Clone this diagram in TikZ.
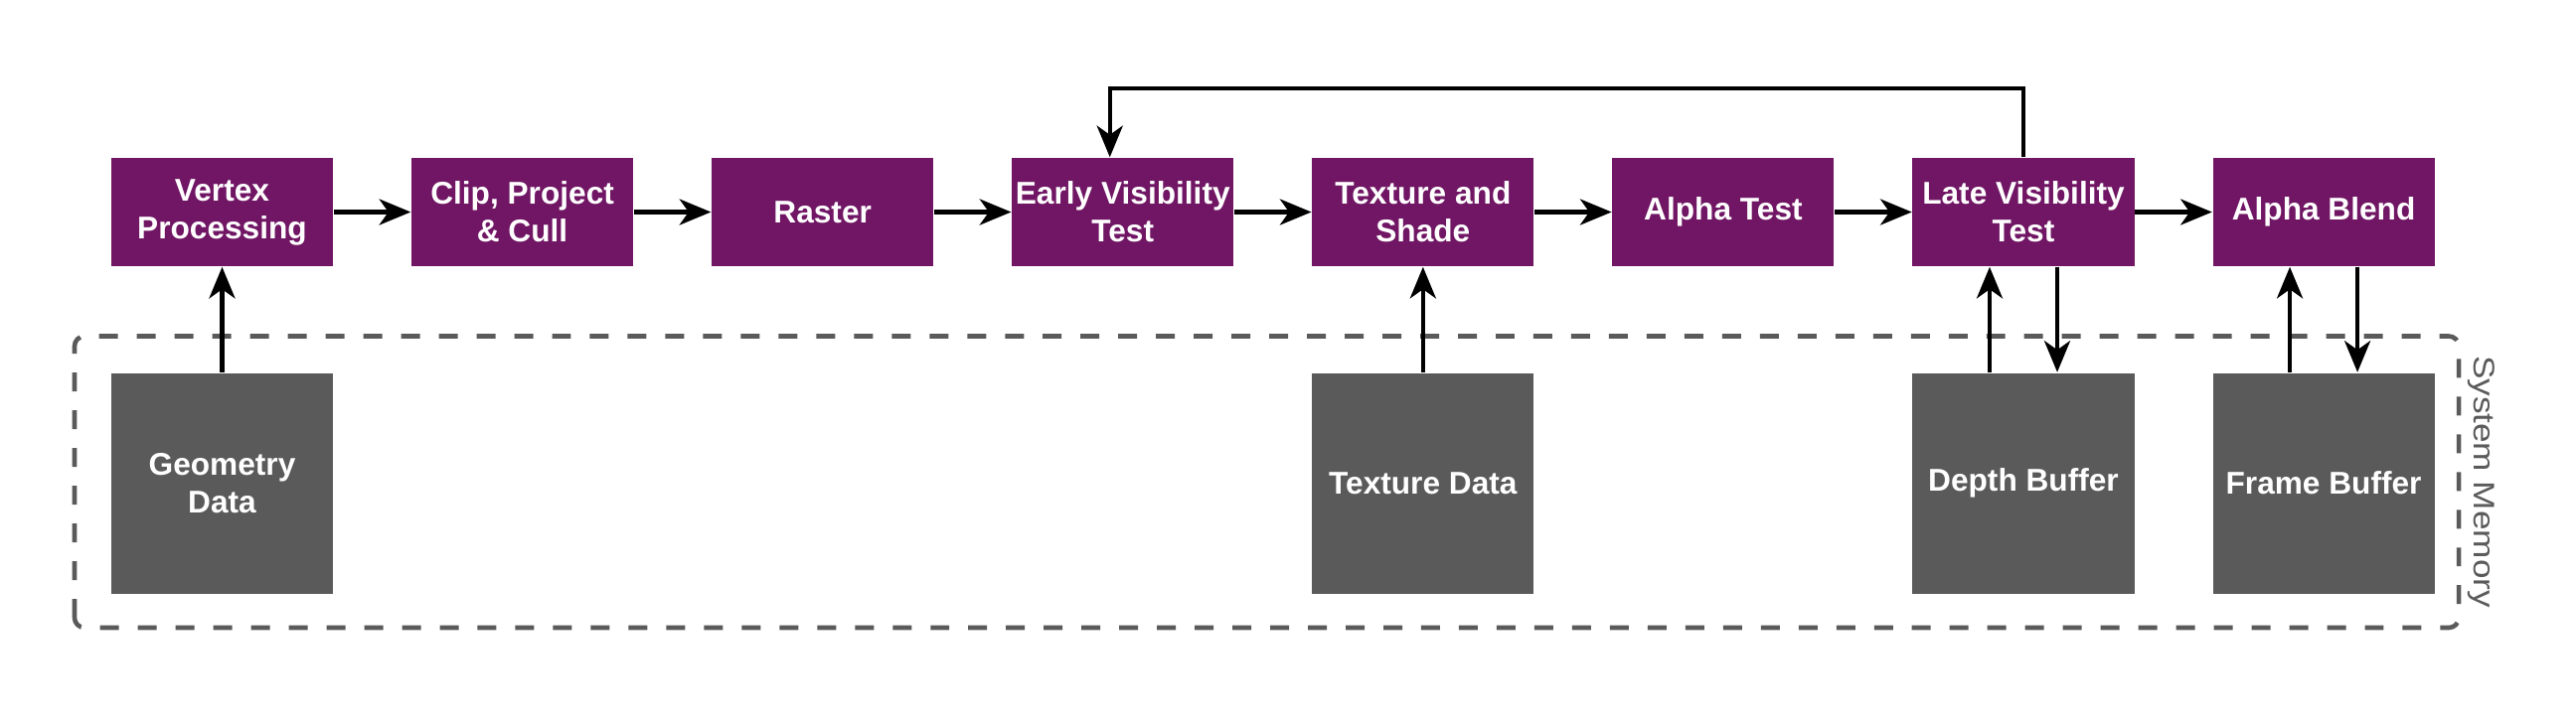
\documentclass[tikz,border=0pt]{standalone}
\usepackage{fontspec}
\setmainfont{Liberation Sans}
\usepackage{xcolor}
\usepackage{tikz}
\usetikzlibrary{positioning,calc,arrows.meta}

\definecolor{stagepurple}{HTML}{701664}
\definecolor{memgray}{HTML}{5A5A5A}

\tikzset{
    stage/.style={rectangle, fill=stagepurple, text=white, minimum width=2.23cm, minimum height=1.09cm,
        inner sep=0pt, align=center, font=\bfseries\fontsize{9}{10.8}\selectfont},
    memblock/.style={rectangle, fill=memgray, text=white, minimum width=2.23cm, minimum height=2.22cm,
        inner sep=0pt, align=center, font=\bfseries\fontsize{9}{10.8}\selectfont},
    flow/.style={line width=1.25pt, -{Stealth[length=9pt, width=7.4pt, inset=2.6pt]}},
}

\begin{document}
\begin{tikzpicture}[x=0.01cm, y=0.01cm, node distance=0.775cm]
    \useasboundingbox (0,0) rectangle (2592,729);

    % System memory frame
    \draw[memgray, line width=1.3pt, dash pattern=on 5.4pt off 5.4pt, rounded corners=0.1cm]
        (75,97) rectangle (2474,390.5);
    \node[rotate=-90, yscale=0.85, text=memgray, font=\fontsize{10}{10}\selectfont] (sysmem) at (2497,244) {System Memory};

    % Pipeline stages
    \node[stage] (vertex) at (223.5,515.5) {Vertex\\Processing};
    \node[stage, right=of vertex] (clip) {Clip, Project\\\& Cull};
    \node[stage, right=of clip] (raster) {Raster};
    \node[stage, right=of raster] (early) {Early Visibility\\Test};
    \node[stage, right=of early] (texshade) {Texture and\\Shade};
    \node[stage, right=of texshade] (alphatest) {Alpha Test};
    \node[stage, right=of alphatest] (late) {Late Visibility\\Test};
    \node[stage, right=of late] (blend) {Alpha Blend};

    % Memory blocks
    \node[memblock, below=1.06cm of vertex] (geometry) {Geometry\\Data};
    \node[memblock, below=1.06cm of texshade] (texdata) {Texture Data};
    \node[memblock, below=1.06cm of late] (depth) {Depth Buffer};
    \node[memblock, below=1.06cm of blend] (frame) {Frame Buffer};

    % Stage to stage
    \foreach \a/\b in {vertex/clip, clip/raster, raster/early, early/texshade,
                       texshade/alphatest, alphatest/late, late/blend}
        \draw[flow] (\a) -- (\b);

    % Memory reads and writes
    \draw[flow] (geometry.north) -- (vertex.south);
    \draw[flow] (texdata.north) -- (texshade.south);
    \draw[flow] ([xshift=-0.34cm]depth.north) -- ([xshift=-0.34cm]late.south);
    \draw[flow] ([xshift=0.34cm]late.south) -- ([xshift=0.34cm]depth.north);
    \draw[flow] ([xshift=-0.34cm]frame.north) -- ([xshift=-0.34cm]blend.south);
    \draw[flow] ([xshift=0.34cm]blend.south) -- ([xshift=0.34cm]frame.north);

    % Feedback
    \draw[flow] (late.north) -- ++(0,0.69cm) -| ([xshift=-0.13cm]early.north);
\end{tikzpicture}
\end{document}
